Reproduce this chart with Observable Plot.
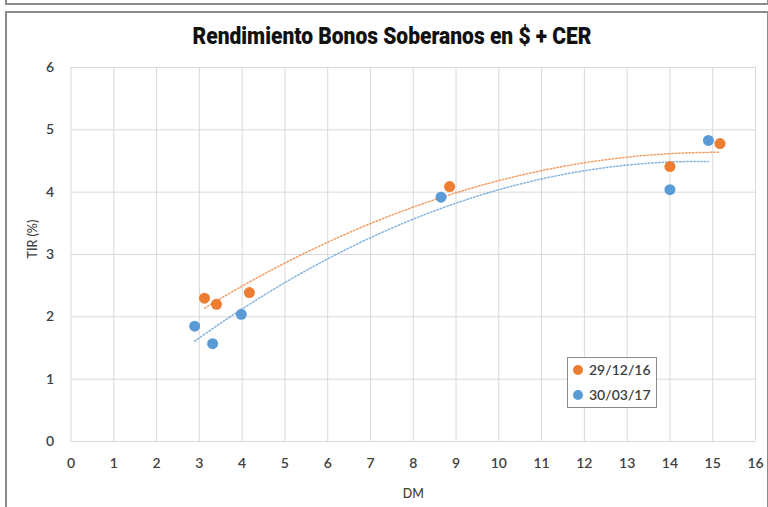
<!DOCTYPE html>
<html>
<head>
<meta charset="utf-8">
<script src="https://cdn.jsdelivr.net/npm/d3@7"></script>
<script src="https://cdn.jsdelivr.net/npm/@observablehq/plot@0.6"></script>
<style>
  html, body { margin: 0; padding: 0; background: #fff; }
  #page { position: relative; width: 768px; height: 507px; overflow: hidden; background: #fff; }
  .topbox { position: absolute; left: 5px; top: -10px; width: 760px; height: 13px; border: 2px solid #8c8c8c; border-top: none; }
  .chartbox { position: absolute; left: 5px; top: 11px; width: 760px; height: 520px; border: 2px solid #8c8c8c; }
  #title { position: absolute; left: 16px; width: 752px; top: 22px; text-align: center;
           font-family: Roboto, "Liberation Sans", sans-serif; font-weight: 900;
           font-size: 24px; color: #111; transform: scaleX(0.875); transform-origin: 376px 50%; }
  #chart { position: absolute; left: 0; top: 0; }
  #legend { position: absolute; left: 567px; top: 357px; width: 88px; height: 49px; border: 1.5px solid #8a8a8a; background: #fff;
            font-family: Lato, "Open Sans", sans-serif; font-size: 14px; font-weight: 600; color: #404040; }
  #legend .item { position: absolute; left: 5px; display: flex; align-items: center; }
  #legend .dot { width: 10px; height: 10px; border-radius: 50%; margin-right: 6px; }
</style>
</head>
<body>
<div id="page">
  <div class="topbox"></div>
  <div class="chartbox"></div>
  <div id="chart"></div>
  <div id="title">Rendimiento Bonos Soberanos en $ + CER</div>
  <div id="legend"></div>
</div>
<script>
// ---- data ----
const seriesNames = ["29/12/16", "30/03/17"];
const seriesColors = ["#ED7D31", "#5B9BD5"];
const dmOrange  = [3.12, 3.40, 4.17, 8.85, 14.00, 15.17];
const tirOrange = [2.30, 2.20, 2.39, 4.09, 4.41, 4.78];
const dmBlue    = [2.89, 3.31, 3.98, 8.65, 14.00, 14.90];
const tirBlue   = [1.85, 1.57, 2.04, 3.92, 4.04, 4.83];
const xTicks = [0,1,2,3,4,5,6,7,8,9,10,11,12,13,14,15,16];
const yTicks = [0,1,2,3,4,5,6];

// ---- table ----
const points = [
  ...dmOrange.map((x, i) => ({series: seriesNames[0], x, y: tirOrange[i]})),
  ...dmBlue.map((x, i) => ({series: seriesNames[1], x, y: tirBlue[i]}))
];

// least-squares polynomial (order 2) trendline, like Excel
function quadFit(xs, ys) {
  let s = [0,0,0,0,0], t = [0,0,0];
  xs.forEach((x, i) => {
    const y = ys[i];
    for (let k = 0; k < 5; k++) s[k] += Math.pow(x, k);
    for (let k = 0; k < 3; k++) t[k] += y * Math.pow(x, k);
  });
  const A = [[s[0], s[1], s[2], t[0]], [s[1], s[2], s[3], t[1]], [s[2], s[3], s[4], t[2]]];
  for (let i = 0; i < 3; i++) {
    for (let j = i + 1; j < 3; j++) {
      const f = A[j][i] / A[i][i];
      for (let k = i; k < 4; k++) A[j][k] -= f * A[i][k];
    }
  }
  const c = [0,0,0];
  for (let i = 2; i >= 0; i--) {
    let v = A[i][3];
    for (let k = i + 1; k < 3; k++) v -= A[i][k] * c[k];
    c[i] = v / A[i][i];
  }
  return c;
}
function trend(name, xs, ys) {
  const c = quadFit(xs, ys);
  const x0 = d3.min(xs), x1 = d3.max(xs);
  return d3.range(0, 81).map(i => {
    const x = x0 + (x1 - x0) * i / 80;
    return {series: name, x, y: c[0] + c[1] * x + c[2] * x * x};
  });
}
const trendLines = [
  ...trend(seriesNames[0], dmOrange, tirOrange),
  ...trend(seriesNames[1], dmBlue, tirBlue)
];

const color = {domain: seriesNames, range: seriesColors};
const tickFont = "Lato, 'Open Sans', sans-serif";

const chart = Plot.plot({
  width: 768,
  height: 507,
  marginLeft: 70.5,
  marginRight: 13,
  marginTop: 67,
  marginBottom: 66,
  style: {fontFamily: tickFont, fontSize: "14px", color: "#404040", background: "transparent"},
  x: {domain: [0, 16]},
  y: {domain: [0, 6]},
  color,
  marks: [
    Plot.gridX(xTicks, {stroke: "#d9d9d9", strokeOpacity: 1, strokeWidth: 1}),
    Plot.gridY(yTicks, {stroke: "#d9d9d9", strokeOpacity: 1, strokeWidth: 1}),
    Plot.axisX({ticks: xTicks, tickSize: 0, tickPadding: 17, fontWeight: 600, label: null, tickFormat: d => String(d)}),
    Plot.axisY({ticks: yTicks, tickSize: 0, tickPadding: 17, fontWeight: 600, label: null, tickFormat: d => String(d)}),
    Plot.text(["DM"], {frameAnchor: "bottom", dy: 52, fontSize: 12.5, fill: "#404040", fontWeight: 500, lineAnchor: "middle"}),
    Plot.text(["TIR (%)"], {frameAnchor: "left", dx: -38, dy: 4, rotate: -90, fontSize: 12.5, fill: "#404040", fontWeight: 500}),
    Plot.line(trendLines, {x: "x", y: "y", z: "series", stroke: "series", strokeWidth: 1.5, strokeDasharray: "1.5,2", strokeOpacity: 0.75, curve: "linear"}),
    Plot.dot(points, {x: "x", y: "y", fill: "series", r: 5.5})
  ]
});
document.getElementById("chart").appendChild(chart);

// legend
const legend = document.getElementById("legend");
seriesNames.forEach((n, i) => {
  const it = document.createElement("div");
  it.className = "item";
  it.style.top = (3 + i * 25) + "px";
  it.innerHTML = `<span class="dot" style="background:${seriesColors[i]}"></span><span>${n}</span>`;
  legend.appendChild(it);
});
</script>
</body>
</html>
